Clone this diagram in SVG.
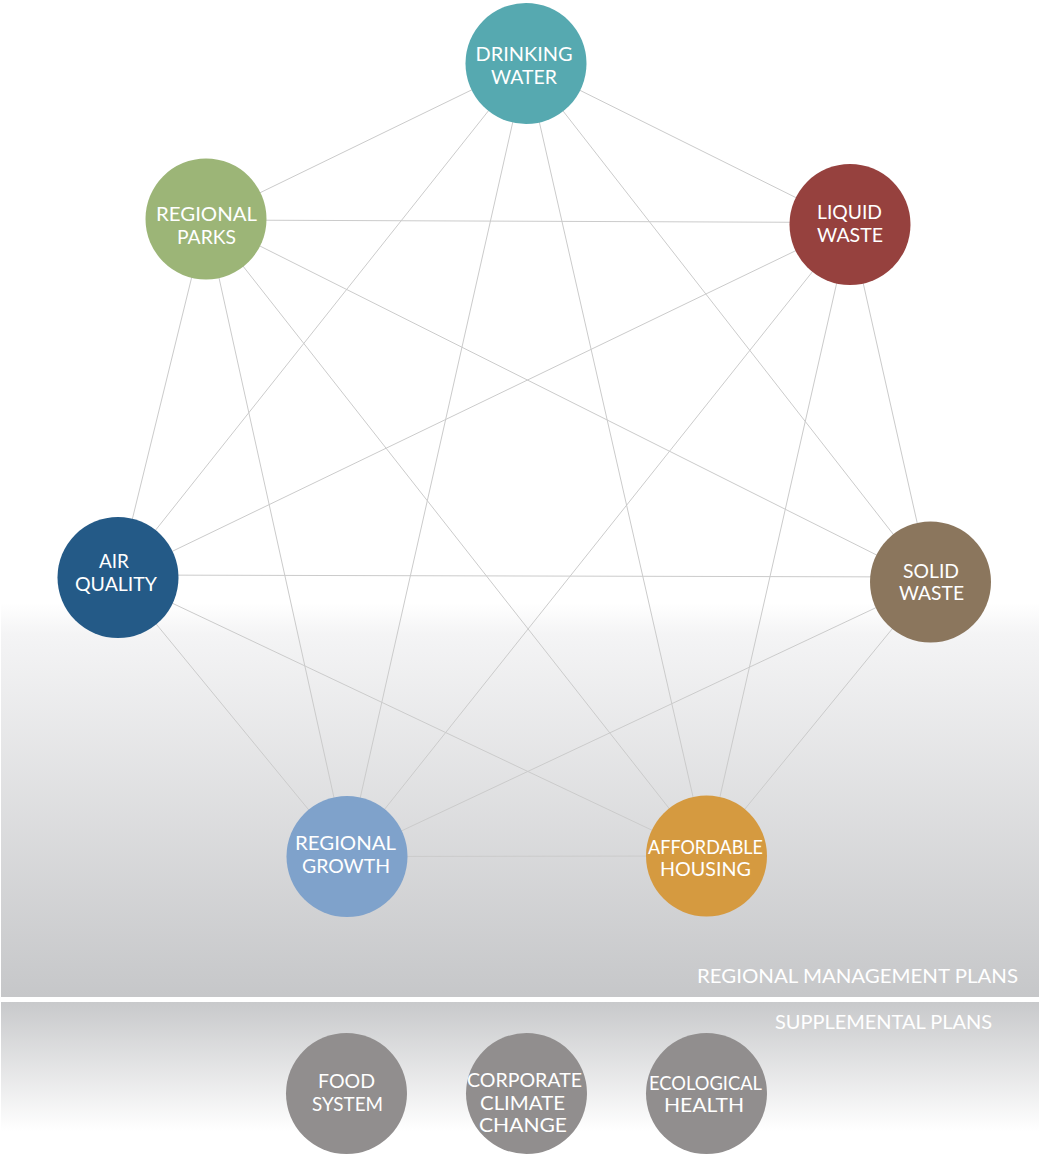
<svg xmlns="http://www.w3.org/2000/svg" width="1040" height="1154" viewBox="0 0 1040 1154">
<defs>
<linearGradient id="g1" x1="0" y1="0" x2="0" y2="1">
<stop offset="0" stop-color="#ffffff"/>
<stop offset="0.08" stop-color="#f4f4f5"/>
<stop offset="1" stop-color="#c6c7c9"/>
</linearGradient>
<linearGradient id="g2" x1="0" y1="0" x2="0" y2="1">
<stop offset="0" stop-color="#c8c9cb"/>
<stop offset="0.85" stop-color="#ffffff"/>
<stop offset="1" stop-color="#ffffff"/>
</linearGradient>
<style>
.lbl{font-family:Lato,"Open Sans","Liberation Sans",sans-serif;font-size:19.5px;fill:#ffffff;text-anchor:middle}
.sec{font-family:Lato,"Open Sans","Liberation Sans",sans-serif;font-size:18.5px;fill:#ffffff;text-anchor:end}
.edge{stroke:#cbcbcb;stroke-width:1;fill:none}
</style>
</defs>
<rect x="0" y="0" width="1040" height="1154" fill="#ffffff"/>
<rect x="1" y="603" width="1038" height="394" fill="url(#g1)"/>
<rect x="1" y="1002" width="1038" height="152" fill="url(#g2)"/>
<text class="sec" x="1018" y="982.5" textLength="321" lengthAdjust="spacingAndGlyphs">REGIONAL MANAGEMENT PLANS</text>
<text class="sec" x="992" y="1029" textLength="217" lengthAdjust="spacingAndGlyphs">SUPPLEMENTAL PLANS</text>
<g id="connectors" class="edge">
<line x1="526" y1="63.5" x2="206" y2="219"/>
<line x1="526" y1="63.5" x2="850" y2="224.5"/>
<line x1="526" y1="63.5" x2="118" y2="577.5"/>
<line x1="526" y1="63.5" x2="930.5" y2="582"/>
<line x1="526" y1="63.5" x2="347" y2="856.5"/>
<line x1="526" y1="63.5" x2="706.5" y2="856"/>
<line x1="206" y1="220" x2="850" y2="222.5"/>
<line x1="206" y1="219" x2="118" y2="577.5"/>
<line x1="206" y1="219" x2="930.5" y2="582"/>
<line x1="206" y1="219" x2="347" y2="856.5"/>
<line x1="206" y1="219" x2="706.5" y2="856"/>
<line x1="850" y1="224.5" x2="118" y2="577.5"/>
<line x1="850" y1="224.5" x2="930.5" y2="582"/>
<line x1="850" y1="224.5" x2="347" y2="856.5"/>
<line x1="850" y1="224.5" x2="706.5" y2="856"/>
<line x1="118" y1="575" x2="930.5" y2="577"/>
<line x1="118" y1="577.5" x2="347" y2="856.5"/>
<line x1="118" y1="577.5" x2="706.5" y2="856"/>
<line x1="930.5" y1="582" x2="347" y2="856.5"/>
<line x1="930.5" y1="582" x2="706.5" y2="856"/>
<line x1="347" y1="856.5" x2="706.5" y2="856"/>
</g>
<g id="drinking-water">
<circle cx="526" cy="63.5" r="60.5" fill="#56a9b0"/>
<text class="lbl" x="524" y="61" textLength="97" lengthAdjust="spacingAndGlyphs">DRINKING</text>
<text class="lbl" x="524" y="83.5" textLength="66" lengthAdjust="spacingAndGlyphs">WATER</text>
</g>
<g id="regional-parks">
<circle cx="206" cy="219" r="60.5" fill="#9cb577"/>
<text class="lbl" x="206.5" y="221" textLength="101" lengthAdjust="spacingAndGlyphs">REGIONAL</text>
<text class="lbl" x="206.5" y="244" textLength="59" lengthAdjust="spacingAndGlyphs">PARKS</text>
</g>
<g id="liquid-waste">
<circle cx="850" cy="224.5" r="60.5" fill="#96413e"/>
<text class="lbl" x="849.5" y="219" textLength="65" lengthAdjust="spacingAndGlyphs">LIQUID</text>
<text class="lbl" x="850" y="242" textLength="66" lengthAdjust="spacingAndGlyphs">WASTE</text>
</g>
<g id="air-quality">
<circle cx="118" cy="577.5" r="60.5" fill="#245a87"/>
<text class="lbl" x="114" y="568" textLength="30" lengthAdjust="spacingAndGlyphs">AIR</text>
<text class="lbl" x="116" y="591" textLength="82" lengthAdjust="spacingAndGlyphs">QUALITY</text>
</g>
<g id="solid-waste">
<circle cx="930.5" cy="582" r="60.5" fill="#8b765d"/>
<text class="lbl" x="931" y="578" textLength="56" lengthAdjust="spacingAndGlyphs">SOLID</text>
<text class="lbl" x="931.5" y="600" textLength="65" lengthAdjust="spacingAndGlyphs">WASTE</text>
</g>
<g id="regional-growth">
<circle cx="347" cy="856.5" r="60.5" fill="#7fa2cb"/>
<text class="lbl" x="345.5" y="850" textLength="101" lengthAdjust="spacingAndGlyphs">REGIONAL</text>
<text class="lbl" x="346" y="873" textLength="88" lengthAdjust="spacingAndGlyphs">GROWTH</text>
</g>
<g id="affordable-housing">
<circle cx="706.5" cy="856" r="60.5" fill="#d59a40"/>
<text class="lbl" x="705.5" y="854" textLength="115" lengthAdjust="spacingAndGlyphs">AFFORDABLE</text>
<text class="lbl" x="705.5" y="876" textLength="91" lengthAdjust="spacingAndGlyphs">HOUSING</text>
</g>
<g id="food-system">
<circle cx="346.5" cy="1093.5" r="60.5" fill="#918e8e"/>
<text class="lbl" x="346.5" y="1088" textLength="57" lengthAdjust="spacingAndGlyphs">FOOD</text>
<text class="lbl" x="347.5" y="1111" textLength="71" lengthAdjust="spacingAndGlyphs">SYSTEM</text>
</g>
<g id="corporate-climate-change">
<circle cx="526.5" cy="1093.5" r="60.5" fill="#918e8e"/>
<text class="lbl" x="524.5" y="1087" textLength="115" lengthAdjust="spacingAndGlyphs">CORPORATE</text>
<text class="lbl" x="522.5" y="1110" textLength="85" lengthAdjust="spacingAndGlyphs">CLIMATE</text>
<text class="lbl" x="523" y="1132" textLength="88" lengthAdjust="spacingAndGlyphs">CHANGE</text>
</g>
<g id="ecological-health">
<circle cx="706.5" cy="1093.5" r="60.5" fill="#918e8e"/>
<text class="lbl" x="705.5" y="1090" textLength="113" lengthAdjust="spacingAndGlyphs">ECOLOGICAL</text>
<text class="lbl" x="704" y="1112" textLength="80" lengthAdjust="spacingAndGlyphs">HEALTH</text>
</g>
</svg>
